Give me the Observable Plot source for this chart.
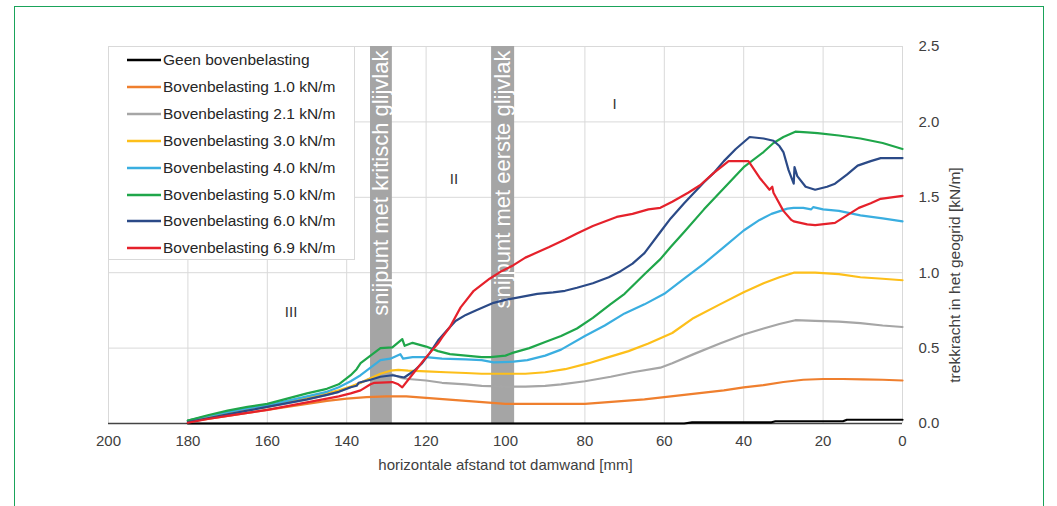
<!DOCTYPE html>
<html>
<head>
<meta charset="utf-8">
<script src="https://cdn.jsdelivr.net/npm/d3@7"></script>
<script src="https://cdn.jsdelivr.net/npm/@observablehq/plot@0.6"></script>
<style>
  html, body { margin: 0; padding: 0; background: #fff; }
  #wrap { position: relative; width: 1057px; height: 506px; overflow: hidden; background: #fff;
          font-family: "Liberation Sans", Arial, sans-serif; }
  #frame { position: absolute; left: 14px; top: 6px; width: 1030px; height: 540px;
           border: 1.5px solid #1aa35a; box-sizing: border-box; }
  #chart { position: absolute; left: 0; top: 0; }
  #legend { position: absolute; left: 108px; top: 46px; width: 247px; height: 214px;
            background: #fff; border: 1px solid #d9d9d9; box-sizing: border-box; }
  .row { position: absolute; left: 18px; height: 20px; display: flex; align-items: center;
         font-size: 15.5px; color: #262626; white-space: nowrap; }
  .row svg { margin-right: 2px; }
</style>
</head>
<body>
<div id="wrap">
  <div id="frame"></div>
  <div id="chart"></div>
  <div id="legend"></div>
</div>
<script>
// Series names and colours (legend order)
const seriesNames = [
  "Geen bovenbelasting",
  "Bovenbelasting 1.0 kN/m",
  "Bovenbelasting 2.1 kN/m",
  "Bovenbelasting 3.0 kN/m",
  "Bovenbelasting 4.0 kN/m",
  "Bovenbelasting 5.0 kN/m",
  "Bovenbelasting 6.0 kN/m",
  "Bovenbelasting 6.9 kN/m"
];
const seriesColors = ["#000000", "#ef7f2e", "#a6a6a6", "#fdbf1a", "#3aaee0", "#1fa64a", "#2b4a87", "#e5212b"];

// Measured tensile force [kN/m] vs. horizontal distance to the sheet pile [mm]
const load0 = [[180,0],[55,0],[53,0.008],[33,0.008],[32,0.015],[15,0.015],[14,0.025],[0,0.025]];
const load10 = [[180,0.01],[175,0.03],[170,0.05],[165,0.07],[160,0.09],[155,0.11],[150,0.13],[145,0.15],[140,0.165],[135,0.175],[130,0.18],[125,0.18],[120,0.17],[115,0.16],[110,0.15],[105,0.14],[100,0.13],[90,0.13],[80,0.13],[75,0.14],[70,0.15],[65,0.16],[60,0.175],[55,0.19],[50,0.205],[45,0.22],[40,0.24],[35,0.255],[30,0.275],[25,0.29],[20,0.295],[15,0.295],[10,0.293],[5,0.29],[0,0.285]];
const load21 = [[180,0.02],[175,0.045],[170,0.07],[165,0.09],[160,0.11],[155,0.135],[150,0.16],[145,0.19],[142,0.21],[139,0.24],[136.5,0.27],[134,0.3],[131.5,0.32],[128.5,0.325],[126,0.3],[124.5,0.295],[120,0.285],[116,0.27],[110,0.26],[106,0.25],[100,0.245],[95,0.245],[90,0.25],[86,0.26],[80,0.28],[73.5,0.31],[68,0.34],[61,0.37],[58,0.40],[52.6,0.46],[46,0.53],[40,0.59],[35,0.63],[31,0.66],[27,0.685],[22,0.68],[16,0.675],[10.6,0.665],[5,0.65],[0,0.64]];
const load30 = [[180,0.02],[175,0.045],[170,0.07],[165,0.09],[160,0.11],[155,0.14],[150,0.17],[145,0.2],[142,0.22],[139,0.245],[136.5,0.27],[134,0.3],[131.5,0.33],[129,0.35],[127,0.355],[124.5,0.35],[120,0.345],[115,0.34],[110,0.335],[106,0.33],[100,0.33],[95,0.33],[90,0.34],[85,0.36],[79,0.40],[74,0.44],[69,0.48],[64,0.53],[58,0.60],[52.6,0.70],[46,0.79],[40,0.87],[35,0.93],[31,0.97],[27.4,1.0],[22,1.0],[16,0.99],[10.6,0.97],[5,0.96],[0,0.95]];
const load40 = [[180,0.02],[175,0.05],[170,0.075],[165,0.1],[160,0.12],[155,0.15],[150,0.18],[145,0.21],[142,0.24],[139,0.28],[136.5,0.32],[134,0.37],[131.5,0.42],[129,0.43],[126.5,0.46],[125.8,0.43],[123.4,0.44],[120,0.44],[116,0.43],[110,0.425],[106,0.42],[103,0.405],[98,0.41],[94.5,0.42],[90,0.45],[86,0.49],[80,0.58],[75,0.65],[70,0.73],[65,0.79],[60,0.86],[55,0.96],[50,1.06],[45,1.17],[40,1.28],[36,1.35],[33,1.39],[29,1.425],[27.4,1.43],[25,1.43],[23,1.42],[22.5,1.435],[20,1.42],[16,1.41],[10.6,1.38],[5,1.36],[0,1.34]];
const load50 = [[180,0.02],[175,0.055],[170,0.085],[165,0.11],[160,0.13],[155,0.165],[150,0.2],[145,0.23],[142,0.26],[139,0.32],[137.5,0.36],[136.5,0.40],[134,0.45],[131.5,0.50],[128.5,0.505],[126,0.56],[125.4,0.515],[123.4,0.535],[120,0.51],[117,0.48],[114,0.46],[110,0.45],[106,0.44],[103.8,0.44],[100,0.45],[98,0.47],[94,0.5],[90,0.54],[86,0.58],[82,0.63],[78,0.7],[73.6,0.79],[70,0.86],[65,0.99],[61,1.09],[58.4,1.17],[55,1.27],[50,1.42],[45,1.56],[40,1.70],[35,1.80],[32.5,1.86],[30,1.9],[27,1.935],[24,1.93],[21.4,1.925],[16,1.91],[10.6,1.89],[5,1.86],[0,1.82]];
const load60 = [[180,0.01],[175,0.035],[170,0.06],[165,0.085],[160,0.11],[155,0.135],[150,0.16],[145,0.19],[142,0.21],[139,0.24],[137.5,0.25],[137,0.27],[134,0.29],[131.5,0.31],[128.5,0.32],[125.5,0.305],[123,0.35],[121,0.40],[119,0.47],[117,0.55],[115,0.61],[112.6,0.68],[110,0.72],[107.5,0.75],[103,0.80],[100,0.82],[96,0.84],[92,0.86],[88,0.87],[85,0.88],[82,0.90],[78,0.93],[74,0.97],[71,1.01],[68,1.06],[65,1.13],[61,1.27],[58.4,1.36],[55,1.46],[50,1.60],[47.6,1.66],[45,1.74],[42,1.82],[38.5,1.90],[35,1.89],[32.5,1.875],[31,1.84],[30,1.80],[28.7,1.68],[27.4,1.59],[27.2,1.70],[26.5,1.64],[24.4,1.57],[22,1.55],[19,1.57],[17,1.59],[14,1.65],[11.3,1.71],[8,1.74],[5.5,1.76],[0,1.76]];
const load69 = [[180,0.005],[175,0.03],[170,0.05],[165,0.07],[160,0.09],[155,0.115],[150,0.14],[145,0.165],[142,0.18],[139,0.2],[136.5,0.22],[134,0.26],[133,0.27],[128.5,0.275],[127,0.26],[126,0.24],[124.5,0.29],[123,0.34],[120.6,0.42],[119,0.47],[117,0.53],[116,0.57],[114,0.64],[111.3,0.77],[108,0.88],[104,0.96],[101,1.01],[98,1.05],[95,1.10],[89,1.17],[85,1.22],[82,1.26],[78,1.31],[72,1.37],[68,1.39],[64,1.42],[61,1.43],[58,1.47],[54,1.53],[51,1.58],[47.6,1.66],[43.8,1.74],[38.8,1.74],[36,1.63],[33.5,1.55],[32.8,1.57],[32.5,1.53],[30,1.41],[28,1.35],[27.4,1.34],[24,1.32],[22,1.315],[17,1.33],[14,1.38],[11,1.43],[8,1.46],[5.5,1.49],[0,1.51]];
const seriesData = [load0, load10, load21, load30, load40, load50, load60, load69];

// Intersection zones with the slip planes [mm]
const bandStart = [134, 103.5];
const bandEnd = [128.5, 97.7];
const bandLabels = ["snijpunt met kritisch glijvlak", "snijpunt met eerste glijvlak"];

// Zone markers (I, II, III)
const zoneLabels = ["I", "II", "III"];
const zoneX = [72.5, 113, 154];
const zoneY = [2.12, 1.62, 0.74];

// Axis ticks and titles
const xTicks = [200, 180, 160, 140, 120, 100, 80, 60, 40, 20, 0];
const yTicks = [0, 0.5, 1.0, 1.5, 2.0, 2.5];
const xTitle = "horizontale afstand tot damwand [mm]";
const yTitle = "trekkracht in het geogrid [kN/m]";

// Long table for the line mark, in legend order
const rows = [];
seriesData.forEach((pts, i) => pts.forEach(([d, f]) => rows.push({series: seriesNames[i], d, f})));
const bands = bandStart.map((s, i) => ({x1: s, x2: bandEnd[i], mid: (s + bandEnd[i]) / 2, label: bandLabels[i]}));
const zones = zoneLabels.map((t, i) => ({t, x: zoneX[i], y: zoneY[i]}));

const chart = Plot.plot({
  width: 1057,
  height: 506,
  marginLeft: 108,
  marginRight: 155,
  marginTop: 46,
  marginBottom: 83,
  style: {fontFamily: '"Liberation Sans", Arial, sans-serif', fontSize: "15px", color: "#404040", background: "transparent"},
  x: {domain: [200, 0]},
  y: {domain: [0, 2.5]},
  color: {domain: seriesNames, range: seriesColors},
  marks: [
    Plot.gridX(xTicks, {stroke: "#d9d9d9", strokeOpacity: 1}),
    Plot.gridY(yTicks, {stroke: "#d9d9d9", strokeOpacity: 1}),
    Plot.rectX(bands, {x1: "x1", x2: "x2", y1: 0, y2: 2.5, fill: "#a5a5a5"}),
    Plot.text(bands, {x: "mid", frameAnchor: "top", dy: 4, text: "label", rotate: -90, textAnchor: "end",
                      lineAnchor: "middle", fill: "white", fontSize: 22}),
    Plot.text(zones, {x: "x", y: "y", text: "t", fontSize: 15, fill: "#333"}),
    Plot.ruleY([0], {stroke: "#444", strokeWidth: 1.5}),
    Plot.line(rows, {x: "d", y: "f", z: "series", stroke: "series", strokeWidth: 2.2, curve: "linear"}),
    Plot.axisX({ticks: xTicks, tickSize: 0, tickPadding: 12, fontSize: 15,
                label: xTitle, labelAnchor: "center", labelArrow: "none", labelOffset: 46}),
    Plot.axisY({anchor: "right", ticks: yTicks, tickFormat: d => d.toFixed(1), tickSize: 0, tickPadding: 16, fontSize: 15,
                label: null}),
    Plot.text([yTitle], {frameAnchor: "right", dx: 53, dy: 40, rotate: -90, textAnchor: "middle",
                         lineAnchor: "middle", fontSize: 15.5, fill: "#404040"})
  ]
});
document.getElementById("chart").appendChild(chart);

// Legend
const legend = document.getElementById("legend");
seriesNames.forEach((name, i) => {
  const row = document.createElement("div");
  row.className = "row";
  row.style.top = (3 + i * 26.9) + "px";
  row.innerHTML = `<svg width="34" height="6"><line x1="0" x2="34" y1="3" y2="3" stroke="${seriesColors[i]}" stroke-width="2.5"/></svg><span>${name}</span>`;
  legend.appendChild(row);
});
</script>
</body>
</html>
